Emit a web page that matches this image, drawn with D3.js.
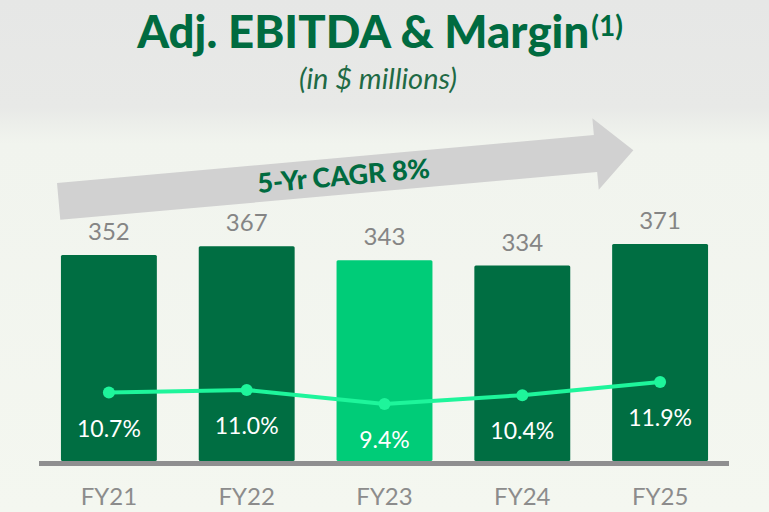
<!DOCTYPE html>
<html>
<head>
<meta charset="utf-8">
<script src="https://cdn.jsdelivr.net/npm/d3@7"></script>
<style>
  html, body { margin: 0; padding: 0; }
  body { width: 769px; height: 512px; overflow: hidden; }
  svg { display: block; }
</style>
</head>
<body>
<svg id="chart" width="769" height="512"></svg>
<script>
// Fiscal years and values
const categories = ["FY21", "FY22", "FY23", "FY24", "FY25"];
const ebitda = [352, 367, 343, 334, 371];          // Adj. EBITDA, $ millions
const margin = [10.7, 11.0, 9.4, 10.4, 11.9];      // Adj. EBITDA margin, %
const highlight = ["FY23"];

const W = 769, H = 512;
const svg = d3.select("#chart");
const FONT = "Lato, 'Open Sans', sans-serif";

// Background: pale grey sky fading into a light green field
const defs = svg.append("defs");
const bg = defs.append("linearGradient").attr("id", "bg").attr("x1", 0).attr("y1", 0).attr("x2", 0).attr("y2", 1);
[["0%", "#e6e7e6"], ["21%", "#e8e9e7"], ["24%", "#eceeea"], ["28%", "#f1f4ee"], ["100%", "#f4f7f0"]]
  .forEach(([o, c]) => bg.append("stop").attr("offset", o).attr("stop-color", c));
svg.append("rect").attr("width", W).attr("height", H).attr("fill", "url(#bg)");

// Scales
const x = d3.scaleBand().domain(categories).range([40, 729]).paddingInner(0.304).paddingOuter(0.152);
const y = d3.scaleLinear().domain([0, 400]).range([461, 227]);
const yM = d3.scaleLinear().domain([9.4, 11.9]).range([404, 382]);

// Title
const title = svg.append("text")
  .attr("x", 380).attr("y", 48)
  .attr("text-anchor", "middle")
  .attr("font-family", FONT).attr("font-weight", 900)
  .attr("fill", "#006b40");
title.append("tspan").attr("font-size", 45.5).text("Adj. EBITDA & Margin");
title.append("tspan").attr("font-size", 28).attr("font-weight", 700).attr("dx", 2).attr("dy", -12).text("(1)");

svg.append("text")
  .attr("x", 378).attr("y", 89)
  .attr("text-anchor", "middle")
  .attr("font-family", FONT).attr("font-style", "italic")
  .attr("font-size", 29).attr("fill", "#1f6a45")
  .text("(in $ millions)");

// Growth arrow
const arrow = svg.append("g").attr("transform", "translate(57,183) rotate(-5.1)");
arrow.append("path")
  .attr("d", "M0,0 L539,0 L539,-17 L577,18.5 L539,55 L539,37 L0,37 Z")
  .attr("fill", "#d1d1d1");
arrow.append("text")
  .attr("x", 286).attr("y", 18.5).attr("dy", "0.35em")
  .attr("text-anchor", "middle")
  .attr("font-family", FONT).attr("font-weight", 900)
  .attr("font-size", 27).attr("fill", "#006b40")
  .text("5-Yr CAGR 8%");

// Bars
svg.append("g").selectAll("rect")
  .data(categories)
  .join("rect")
  .attr("x", d => x(d))
  .attr("y", (d, i) => y(ebitda[i]))
  .attr("width", x.bandwidth())
  .attr("height", (d, i) => y(0) - y(ebitda[i]))
  .attr("rx", 1.5)
  .attr("fill", d => highlight.includes(d) ? "#00cc78" : "#006e42");

// Bar value labels
svg.append("g").selectAll("text")
  .data(categories)
  .join("text")
  .attr("x", d => x(d) + x.bandwidth() / 2)
  .attr("y", (d, i) => y(ebitda[i]) - 15)
  .attr("text-anchor", "middle")
  .attr("font-family", FONT).attr("font-size", 24)
  .attr("fill", "#858585")
  .text((d, i) => ebitda[i]);

// Baseline
svg.append("line")
  .attr("x1", x.range()[0] - 1).attr("x2", x.range()[1])
  .attr("y1", y(0) + 2.5).attr("y2", y(0) + 2.5)
  .attr("stroke", "#8f8f90").attr("stroke-width", 5);

// Category axis
const xAxis = svg.append("g")
  .attr("transform", `translate(0,${y(0)})`)
  .call(d3.axisBottom(x).tickSize(0).tickPadding(27));
xAxis.select(".domain").remove();
xAxis.selectAll("text")
  .attr("font-family", FONT).attr("font-size", 24)
  .attr("fill", "#8c8c8c");

// Margin line
const pts = categories.map((c, i) => [x(c) + x.bandwidth() / 2, yM(margin[i])]);
svg.append("path")
  .attr("d", d3.line()(pts))
  .attr("fill", "none")
  .attr("stroke", "#1ef59b").attr("stroke-width", 4);
svg.append("g").selectAll("circle")
  .data(pts)
  .join("circle")
  .attr("cx", d => d[0]).attr("cy", d => d[1])
  .attr("r", 6).attr("fill", "#1ef59b");

// Margin labels
svg.append("g").selectAll("text")
  .data(categories)
  .join("text")
  .attr("x", d => x(d) + x.bandwidth() / 2)
  .attr("y", (d, i) => yM(margin[i]) + 44)
  .attr("text-anchor", "middle")
  .attr("font-family", FONT).attr("font-size", 23)
  .attr("fill", "#ffffff")
  .text((d, i) => margin[i].toFixed(1) + "%");
</script>
</body>
</html>
